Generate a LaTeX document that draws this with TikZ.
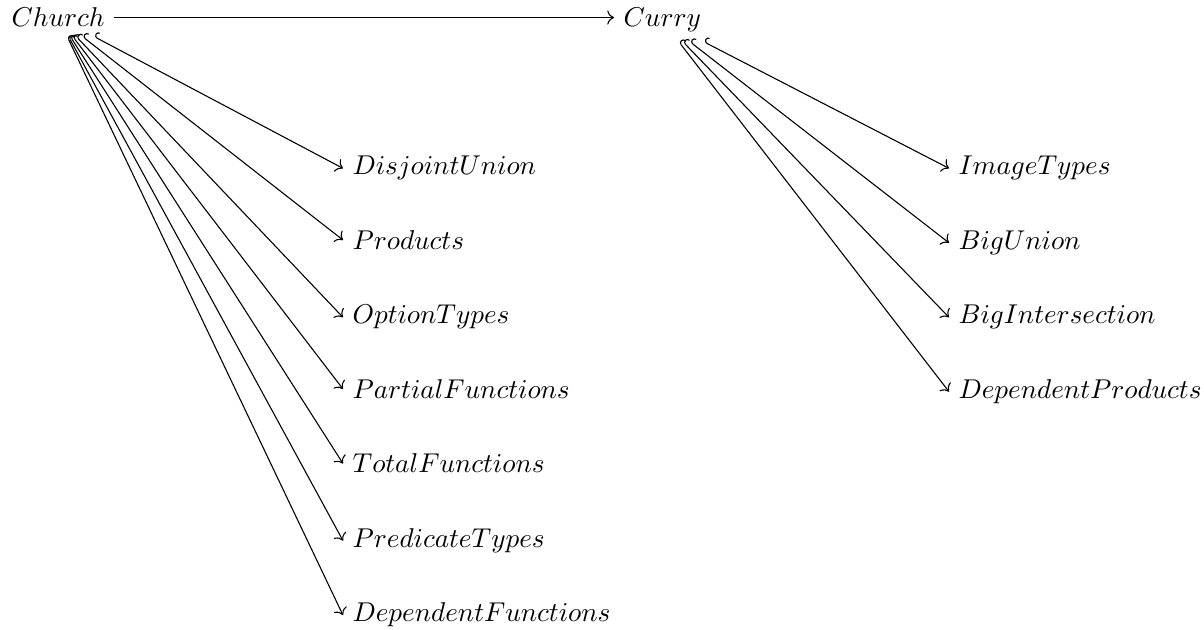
\documentclass[tikz,border=0pt]{standalone}
\usetikzlibrary{arrows.meta}
\begin{document}
\begin{tikzpicture}[x=0.3676pt, y=-0.3676pt,
		lbl/.style={anchor=base west},
		incl/.style={{Hooks[right]}->}]
				\useasboundingbox (0,0) rectangle (1204,630);
				
				% Верхний ряд
				\node[lbl] (church) at (2,27) {$Church$};
				\node[lbl] (curry) at (614,27) {$Curry$};
				
				% Типы под Church
				\node[lbl] (disj) at (343,175) {$DisjointUnion$};
				\node[lbl] (prod) at (343,249.5) {$Products$};
				\node[lbl] (opt) at (343,324) {$OptionTypes$};
				\node[lbl] (part) at (343,398.5) {$PartialFunctions$};
				\node[lbl] (total) at (343,473) {$TotalFunctions$};
				\node[lbl] (pred) at (343,547.5) {$PredicateTypes$};
				\node[lbl] (depfun) at (343,622) {$DependentFunctions$};
				
				% Типы под Curry
				\node[lbl] (img) at (949,175) {$ImageTypes$};
				\node[lbl] (bigu) at (949,249.5) {$BigUnion$};
				\node[lbl] (bigi) at (949,324) {$BigIntersection$};
				\node[lbl] (depprod) at (949,398.5) {$DependentProducts$};
				
				% Стрелки
				\draw[->] (church.east) -- (church.east -| curry.west);
				\foreach \t in {disj,prod,opt,part,total,pred,depfun}
				\draw[incl] (church) -- (\t.west);
				\foreach \t in {img,bigu,bigi,depprod}
				\draw[incl] (curry) -- (\t.west);
			\end{tikzpicture}
\end{document}
